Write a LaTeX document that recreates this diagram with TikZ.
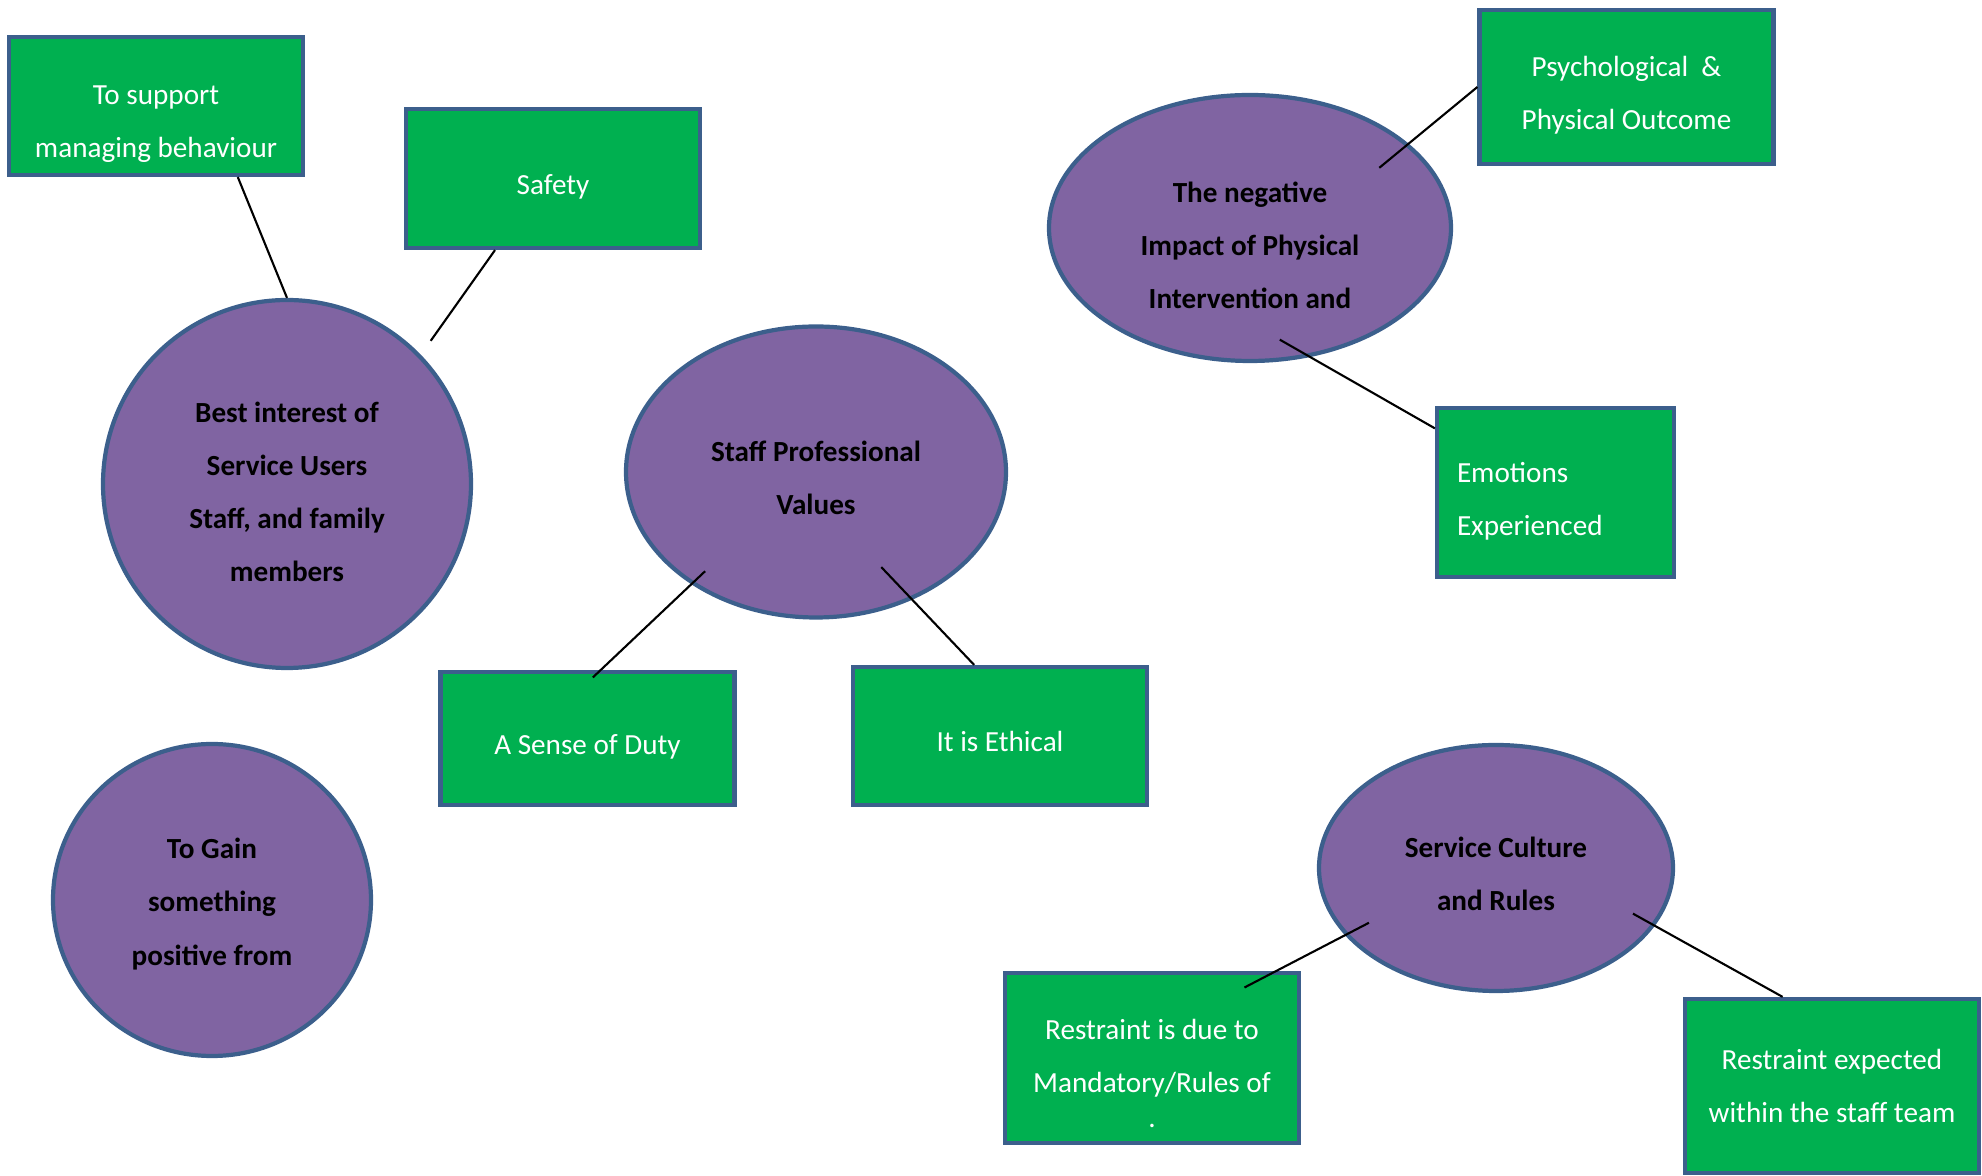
\documentclass[tikz,border=0pt]{standalone}
\usepackage{fontspec}
\setmainfont{Carlito}
\usetikzlibrary{shapes.geometric}
\definecolor{boxgreen}{HTML}{00B050}
\definecolor{rimblue}{HTML}{3C5F8C}
\definecolor{blobpurple}{HTML}{8064A2}

\begin{document}
\begin{tikzpicture}[oval/.style = {draw=rimblue, fill=blobpurple, ellipse, line width=1.2pt, inner sep=1pt, text width=23mm, align=flush center, font=\fontsize{8.3}{15.1}\selectfont\bfseries},
    card/.style = {draw=rimblue, fill=boxgreen, line width=1.2pt, text=white, text width=27mm, align=flush center, minimum width=29.4mm, font=\fontsize{8.3}{15.1}\selectfont},
    sink/.style = {execute at begin node={\rule{0pt}{#1}}},
    dotmark/.style = {text=white, font=\fontsize{8.3}{15.1}\selectfont, yshift=-6.8mm},
    link/.style = {line width=0.6pt}]
    \useasboundingbox (0,0) rectangle (19.82,-11.76);
    % Draw the shapes

    \node[card, sink=15.9pt, minimum height=13.8mm] (support) at (1.56,-1.06) {To support\\managing behaviour};
    \node[card, sink=10.2pt, minimum height=13.9mm] (safety) at (5.53,-1.785) {Safety};
    \node[oval, sink=10.5pt, minimum width=36.8mm, minimum height=36.8mm] (best) at (2.87,-4.84) {Best interest of\\Service Users\\Staff, and family\\members};
    \node[oval, sink=9.1pt, minimum width=38mm, minimum height=29.1mm] (values) at (8.16,-4.72) {Staff Professional\\Values};
    \node[card, sink=10.2pt, minimum height=13.3mm] (duty) at (5.875,-7.385) {A Sense of Duty};
    \node[card, sink=8.7pt, minimum height=13.8mm] (ethical) at (10.0,-7.36) {It is Ethical};
    \node[oval, sink=8.1pt, text width=20mm, minimum width=31.8mm, minimum height=31.2mm] (gain) at (2.12,-9.0) {To Gain\\something\\positive from};
    \node[oval, sink=15.5pt, minimum width=40.2mm, minimum height=26.6mm] (negative) at (12.5,-2.28) {The negative\\Impact of Physical\\Intervention and};
    \node[card, sink=10.5pt, minimum height=15.4mm] (psych) at (16.265,-0.87) {Psychological\ \ \&\\Physical Outcome};
    \node[card, sink=10.9pt, minimum width=23.7mm, minimum height=16.9mm, text width=19.7mm, align=flush left] (emotions) at (15.555,-4.925) {Emotions\\Experienced};
    \node[oval, sink=9.1pt, minimum width=35.4mm, minimum height=24.6mm] (service) at (14.96,-8.68) {Service Culture\\and Rules};
    \node[card, minimum height=17mm, label={[dotmark]center:.}] (mandatory) at (11.52,-10.58) {Restraint is due to\\Mandatory/Rules of};
    \node[card, minimum height=17.4mm] (expected) at (18.32,-10.86) {Restraint expected\\within the staff team};

    \draw[link] (support.-41) to (best.north);
    \draw[link, shorten >=1.7mm] (safety.-129) to (best.44);
    \draw[link, shorten <=-1.9mm, shorten >=-1.1mm] (values.222) to (duty.79);
    \draw[link, shorten <=-4.5mm] (values.-53.7) to (ethical.110);
    \draw[link, shorten <=-3.8mm] (negative.28.7) to (psych.west);
    \draw[link, shorten <=-3.5mm] (negative.-65.7) to (emotions.152.5);
    \draw[link, shorten <=-2.7mm, shorten >=-3.6mm] (service.204.7) to (mandatory.35.3);
    \draw[link, shorten <=-2.5mm] (service.-20.5) to (expected.119);

\end{tikzpicture}
\end{document}
